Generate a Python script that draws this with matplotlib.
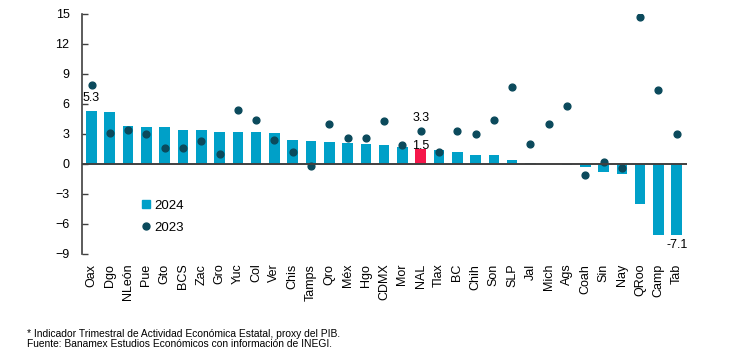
import numpy as np
import matplotlib
matplotlib.use("Agg")
import matplotlib.pyplot as plt
from matplotlib.lines import Line2D

plt.rcParams['font.family'] = ['Liberation Sans', 'DejaVu Sans']

estados = ["Oax", "Dgo", "NLeón", "Pue", "Gto", "BCS", "Zac", "Gro", "Yuc", "Col",
           "Ver", "Chis", "Tamps", "Qro", "Méx", "Hgo", "CDMX", "Mor", "NAL", "Tlax",
           "BC", "Chih", "Son", "SLP", "Jal", "Mich", "Ags", "Coah", "Sin", "Nay",
           "QRoo", "Camp", "Tab"]
v2024 = [5.3, 5.2, 3.8, 3.73, 3.67, 3.37, 3.37, 3.17, 3.17, 3.17,
         3.13, 2.43, 2.3, 2.2, 2.1, 2.0, 1.87, 1.7, 1.5, 1.4,
         1.17, 0.93, 0.9, 0.37, 0.13, 0.0, -0.05, -0.3, -0.83, -1.0,
         -3.97, -7.1, -7.1]
v2023 = [7.87, 3.13, 3.43, 3.03, 1.57, 1.57, 2.27, 1.0, 5.43, 4.43,
         2.43, 1.23, -0.17, 4.03, 2.63, 2.63, 4.27, 1.9, 3.3, 1.23,
         3.27, 3.03, 4.37, 7.67, 2.0, 3.97, 5.83, -1.13, 0.2, -0.4,
         14.7, 7.43, 3.03]
yticks = [-9, -6, -3, 0, 3, 6, 9, 12, 15]

azul = "#00A0C8"
rojo = "#F5174A"
oscuro = "#0B4A5C"

x = np.arange(len(estados))
colores = [rojo if e == "NAL" else azul for e in estados]

fig = plt.figure(figsize=(7.37, 3.55), dpi=100)
ax = fig.add_axes([82/737, 1-254/355, 605/737, 240/355])

ax.bar(x, v2024, width=0.58, color=colores, zorder=2)
ax.scatter(x, v2023, s=24, color=oscuro, zorder=3)
ax.axhline(0, color="#404040", lw=1.4, zorder=4)

ax.set_xlim(-0.52, len(estados) - 0.44)
ax.set_ylim(-9, 15)
ax.set_yticks(yticks)
ax.tick_params(axis='y', direction='in', length=4, width=1, color="#404040",
               labelsize=9, pad=9)
ax.set_xticks(x)
ax.set_xticklabels(estados, rotation=90, fontsize=9)
ax.tick_params(axis='x', length=0, pad=7)
for s in ["top", "right", "bottom"]:
    ax.spines[s].set_visible(False)
ax.spines["left"].set_color("#404040")
ax.spines["left"].set_linewidth(1.2)

# etiquetas de datos
i_oax = estados.index("Oax")
ax.annotate(f"{v2024[i_oax]:.1f}", (x[i_oax], v2024[i_oax]), xytext=(0, 5),
            textcoords="offset points", ha="center", va="bottom", fontsize=9)
i_nal = estados.index("NAL")
ax.annotate(f"{v2024[i_nal]:.1f}", (x[i_nal], v2024[i_nal]), xytext=(0, -2),
            textcoords="offset points", ha="center", va="bottom", fontsize=9)
ax.annotate(f"{v2023[i_nal]:.1f}", (x[i_nal], v2023[i_nal]), xytext=(0, 5),
            textcoords="offset points", ha="center", va="bottom", fontsize=9)
i_tab = estados.index("Tab")
ax.annotate(f"{v2024[i_tab]:.1f}", (x[i_tab], v2024[i_tab]), xytext=(0, -3),
            textcoords="offset points", ha="center", va="top", fontsize=9)

handles = [Line2D([], [], marker="s", ls="", color=azul, markersize=6),
           Line2D([], [], marker="o", ls="", color=oscuro, markersize=5)]
ax.legend(handles, ["2024", "2023"], loc="center left", bbox_to_anchor=(0.076, 0.155),
          frameon=False, fontsize=9.5, handletextpad=0.1, labelspacing=0.75,
          handlelength=1.0)

fig.text(27/737, 1-334/355, "* Indicador Trimestral de Actividad Económica Estatal, proxy del PIB.",
         fontsize=7.4, va="center")
fig.text(27/737, 1-344/355, "Fuente: Banamex Estudios Económicos con información de INEGI.",
         fontsize=7.4, va="center")

fig.savefig("out.png", dpi=100)
